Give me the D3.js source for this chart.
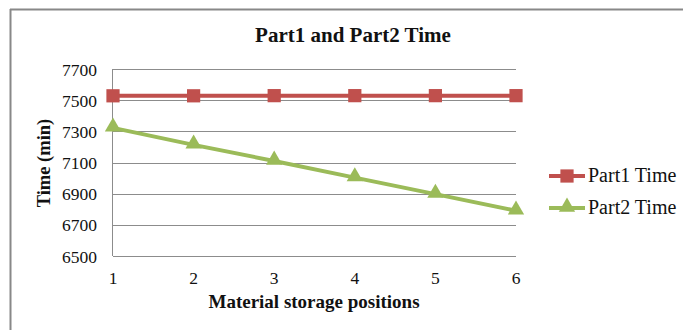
<!DOCTYPE html>
<html><head><meta charset="utf-8">
<script src="https://cdn.jsdelivr.net/npm/d3@7"></script>
<style>html,body{margin:0;background:#fff;overflow:hidden}svg{display:block}</style>
</head><body><div id="c"></div>
<script>
const categories = [1, 2, 3, 4, 5, 6];
const part1 = [7528, 7528, 7529, 7529, 7529, 7529];
const part2 = [7322, 7213, 7110, 7003, 6897, 6790];
const yTicks = [6500, 6700, 6900, 7100, 7300, 7500, 7700];
const seriesNames = ["Part1 Time", "Part2 Time"];
const title = "Part1 and Part2 Time";
const xTitle = "Material storage positions";
const yTitle = "Time (min)";

const W = 683, H = 330;
const svg = d3.select("#c").append("svg").attr("width", W).attr("height", H);
const font = "'Liberation Serif','Times New Roman',serif";

svg.append("line").attr("x1", 10.5).attr("x2", 10.5).attr("y1", 9).attr("y2", H).attr("stroke", "#888").attr("stroke-width", 2);
svg.append("line").attr("x1", 10).attr("x2", W).attr("y1", 9.5).attr("y2", 9.5).attr("stroke", "#888").attr("stroke-width", 2);

const x = d3.scalePoint().domain(categories).range([113, 516]);
const y = d3.scaleLinear().domain([6500, 7700]).range([256, 69]);

const grid = svg.append("g");
grid.selectAll("line").data(yTicks).join("line")
  .attr("x1", 113).attr("x2", 516)
  .attr("y1", d => Math.round(y(d)) + 0.5).attr("y2", d => Math.round(y(d)) + 0.5)
  .attr("stroke", "#8c8c8c").attr("stroke-width", 1);
svg.append("line").attr("x1", 112.5).attr("x2", 112.5).attr("y1", y(7700)).attr("y2", y(6500))
  .attr("stroke", "#8c8c8c");

const yAxis = svg.append("g").attr("transform", "translate(105,0)")
  .call(d3.axisLeft(y).tickValues(yTicks).tickSize(0).tickPadding(8).tickFormat(d3.format("d")));
yAxis.select(".domain").remove();
yAxis.selectAll("text").attr("font-family", font).attr("font-size", 17.5).attr("fill", "#111").attr("dy", "0.35em");

const xAxis = svg.append("g").attr("transform", "translate(0,0)");
xAxis.selectAll("text").data(categories).join("text")
  .attr("x", d => x(d)).attr("y", 284).attr("text-anchor", "middle")
  .attr("font-family", font).attr("font-size", 17.5).attr("fill", "#111").text(d => d);

svg.append("text").attr("x", 353).attr("y", 42).attr("text-anchor", "middle")
  .attr("font-family", font).attr("font-weight", "bold").attr("font-size", 21).attr("fill", "#111").text(title);
svg.append("text").attr("x", 314).attr("y", 308).attr("text-anchor", "middle")
  .attr("font-family", font).attr("font-weight", "bold").attr("font-size", 19).attr("fill", "#111").text(xTitle);
svg.append("text").attr("transform", "translate(50,163) rotate(-90)").attr("text-anchor", "middle")
  .attr("font-family", font).attr("font-weight", "bold").attr("font-size", 18.5).attr("fill", "#111").text(yTitle);

const red = "#C0504D", green = "#9BBB59";
const line = d3.line().x((d, i) => x(categories[i])).y(d => y(d));
svg.append("path").attr("d", line(part1)).attr("fill", "none").attr("stroke", red).attr("stroke-width", 4);
svg.append("path").attr("d", line(part2)).attr("fill", "none").attr("stroke", green).attr("stroke-width", 4);

const sq = d3.symbol().type(d3.symbolSquare).size(175);
const tri = d3.symbol().type(d3.symbolTriangle).size(115);
svg.append("g").selectAll("path").data(part1).join("path")
  .attr("transform", (d, i) => `translate(${x(categories[i])},${y(d)})`).attr("d", sq).attr("fill", red);
svg.append("g").selectAll("path").data(part2).join("path")
  .attr("transform", (d, i) => `translate(${x(categories[i])},${y(d) - 1})`).attr("d", tri).attr("fill", green);

const leg = [[red, sq, 176], [green, tri, 208]];
leg.forEach(([c, s, ly], i) => {
  svg.append("line").attr("x1", 549).attr("x2", 585).attr("y1", ly).attr("y2", ly).attr("stroke", c).attr("stroke-width", 4);
  svg.append("path").attr("transform", `translate(567,${ly - (i ? 1 : 0)})`).attr("d", s).attr("fill", c);
  svg.append("text").attr("x", 588).attr("y", ly + 6).attr("font-family", font).attr("font-size", 20).attr("fill", "#111").text(seriesNames[i]);
});
</script></body></html>
